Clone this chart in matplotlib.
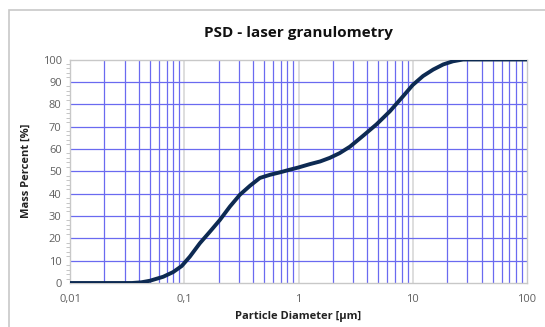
import numpy as np
import matplotlib.pyplot as plt
from matplotlib.ticker import FixedLocator, MultipleLocator
from matplotlib.patches import Rectangle

# particle size distribution
diameter = [0.01, 0.035, 0.042, 0.05, 0.0655, 0.08, 0.095, 0.112, 0.137, 0.168, 0.205,
            0.251, 0.307, 0.376, 0.459, 0.562, 0.687, 0.84, 1.0, 1.26, 1.55,
            1.88, 2.29, 2.82, 3.68, 4.82, 6.3, 8.24, 10.0, 12.3, 15.1, 18.5,
            22.5, 27.6, 35, 100]
mass_pct = [0, 0, 0.3, 1, 2.8, 4.9, 7.6, 11.8, 17.8, 23, 28.2,
            34.2, 39.5, 43.5, 47, 48.4, 49.5, 50.7, 51.7, 53.2, 54.4,
            56, 58.1, 61, 65.9, 71, 76.8, 83.6, 88.6, 92.6, 95.5, 97.8,
            99.2, 100, 100, 100]
xtick_vals = [0.01, 0.1, 1, 10, 100]
xtick_labels = ['0,01', '0,1', '1', '10', '100']

plt.rcParams['font.family'] = ['Open Sans', 'DejaVu Sans']

fig = plt.figure(figsize=(5.45, 3.27), dpi=100)
W, H = 545, 327
ax = fig.add_axes([70 / W, (H - 283) / H, (527 - 70) / W, (283 - 59.5) / H])

# outer chart frame
fig.patches.append(Rectangle((9 / W, -0.1), 1.1, (H - 10) / H + 0.1, transform=fig.transFigure,
                             fill=False, edgecolor='#c8c8c8', linewidth=1.2))

ax.set_xscale('log')
ax.set_xlim(0.01, 100)
ax.set_ylim(0, 100)

# grid: decades gray, minors blue
minors = [m * 10.0 ** e for e in range(-2, 2) for m in range(2, 10)]
for xv in minors:
    ax.axvline(xv, color='#6a6af0', linewidth=0.9, zorder=1)
for xv in xtick_vals[1:-1]:
    ax.axvline(xv, color='#d8d8d8', linewidth=1.2, zorder=1)
for yv in range(10, 100, 10):
    ax.axhline(yv, color='#6a6af0', linewidth=0.9, zorder=1)

ax.plot(diameter, mass_pct, color='#0d2a52', linewidth=2.8, zorder=3,
        solid_capstyle='round', solid_joinstyle='round')

ax.xaxis.set_major_locator(FixedLocator(xtick_vals))
ax.set_xticklabels(xtick_labels)
ax.xaxis.set_minor_locator(FixedLocator([]))
ax.yaxis.set_major_locator(MultipleLocator(10))
ax.yaxis.set_minor_locator(MultipleLocator(2))
ax.tick_params(axis='both', which='major', labelsize=8, labelcolor='#606060', length=0, pad=6)
ax.tick_params(axis='y', which='minor', length=3, color='#bbbbbb', direction='out')
ax.tick_params(axis='x', which='major', pad=8)

for s in ax.spines.values():
    s.set_color('#c8c8c8')
    s.set_linewidth(1.0)

ax.set_xlabel('Particle Diameter [µm]', fontsize=8, fontweight='bold', color='#222222', labelpad=4)
ax.set_ylabel('Mass Percent [%]', fontsize=8, fontweight='bold', color='#222222', labelpad=8)
fig.text(0.5 * (70 + 527) / W, 1 - 33 / H, 'PSD - laser granulometry', ha='center', va='center',
         fontsize=11, fontweight='bold', color='#111111')

fig.savefig('out.png', dpi=100)
